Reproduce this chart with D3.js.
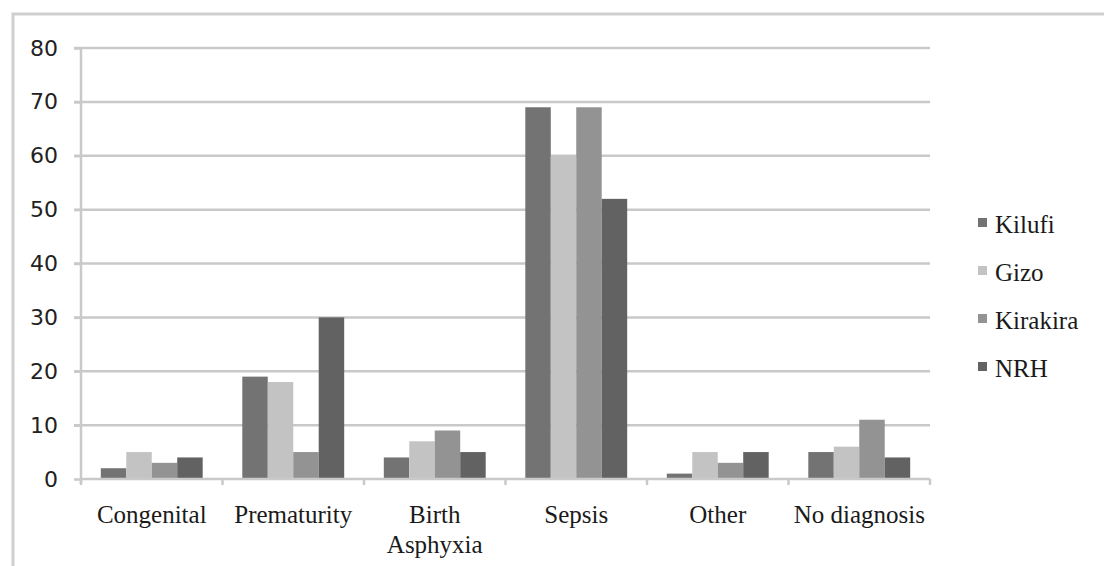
<!DOCTYPE html>
<html>
<head>
<meta charset="utf-8">
<script src="https://cdn.jsdelivr.net/npm/d3@7"></script>
<style>
  body { margin: 0; background: #fff; }
</style>
</head>
<body>
<div id="chart"></div>
<script>
// Data
const categories = ['Congenital', 'Prematurity', 'Birth Asphyxia', 'Sepsis', 'Other', 'No diagnosis'];
const seriesNames = ['Kilufi', 'Gizo', 'Kirakira', 'NRH'];
const kilufi = [2, 19, 4, 69, 1, 5];
const gizo = [5, 18, 7, 60, 5, 6];
const kirakira = [3, 5, 9, 69, 3, 11];
const nrh = [4, 30, 5, 52, 5, 4];
const yTicks = [0, 10, 20, 30, 40, 50, 60, 70, 80];

const seriesValues = [kilufi, gizo, kirakira, nrh];
const colorMapping = ['#737373', '#c3c3c3', '#939393', '#626262'];

const width = 1104, height = 566;
const plot = { left: 81, right: 930, top: 48, bottom: 479 };

const svg = d3.select('#chart')
    .append('svg')
    .attr('width', width)
    .attr('height', height);

svg.append('rect').attr('width', width).attr('height', height).attr('fill', '#fff');

// Outer frame (only top and left visible)
svg.append('path')
    .attr('d', `M13,${height} L13,14 L${width},14`)
    .attr('fill', 'none')
    .attr('stroke', '#cfcfcf')
    .attr('stroke-width', 3);

// Scales
const xScale = d3.scaleBand()
    .domain(categories)
    .range([plot.left, plot.right])
    .paddingInner(0.28)
    .paddingOuter(0.14);

const xInner = d3.scaleBand()
    .domain(seriesNames)
    .range([0, xScale.bandwidth()]);

const yScale = d3.scaleLinear()
    .domain([0, 80])
    .range([plot.bottom, plot.top]);

// Gridlines
svg.append('g')
    .selectAll('line')
    .data(yTicks.filter(d => d > 0))
    .enter().append('line')
    .attr('x1', plot.left - 7)
    .attr('x2', plot.right)
    .attr('y1', d => yScale(d))
    .attr('y2', d => yScale(d))
    .attr('stroke', '#c9c9c9')
    .attr('stroke-width', 2.5);

// Bars
const groups = svg.append('g')
    .selectAll('g')
    .data(categories)
    .enter().append('g')
    .attr('transform', d => `translate(${xScale(d)},0)`);

groups.selectAll('rect')
    .data((c, ci) => seriesNames.map((s, si) => ({ s, si, v: seriesValues[si][ci] })))
    .enter().append('rect')
    .attr('x', d => xInner(d.s))
    .attr('width', xInner.bandwidth())
    .attr('y', d => yScale(d.v))
    .attr('height', d => yScale(0) - yScale(d.v))
    .attr('fill', d => colorMapping[d.si]);

// Y axis
const yAxis = d3.axisLeft(yScale)
    .tickValues(yTicks)
    .tickSize(7)
    .tickPadding(16);
const yG = svg.append('g')
    .attr('transform', `translate(${plot.left},0)`)
    .call(yAxis);
yG.select('.domain').remove();
yG.selectAll('.tick line').attr('stroke', '#c9c9c9').attr('stroke-width', 2.5);
yG.selectAll('.tick text')
    .style('font-family', '"DejaVu Sans", sans-serif')
    .style('font-size', '22px')
    .attr('fill', '#222');
svg.append('line')
    .attr('x1', plot.left).attr('x2', plot.left)
    .attr('y1', plot.top).attr('y2', plot.bottom + 5)
    .attr('stroke', '#c9c9c9').attr('stroke-width', 2.5);

// X axis line and category separators
svg.append('line')
    .attr('x1', plot.left).attr('x2', plot.right)
    .attr('y1', plot.bottom).attr('y2', plot.bottom)
    .attr('stroke', '#c9c9c9').attr('stroke-width', 2.5);

const step = xScale.step();
svg.append('g')
    .selectAll('line')
    .data(d3.range(categories.length + 1))
    .enter().append('line')
    .attr('x1', i => plot.left + i * step)
    .attr('x2', i => plot.left + i * step)
    .attr('y1', plot.bottom)
    .attr('y2', plot.bottom + 6)
    .attr('stroke', '#c9c9c9').attr('stroke-width', 2.5);

// Category labels
const labels = svg.append('g')
    .selectAll('text')
    .data(categories)
    .enter().append('text')
    .attr('text-anchor', 'middle')
    .attr('x', d => xScale(d) + xScale.bandwidth() / 2)
    .attr('y', 523)
    .style('font-family', '"Liberation Serif", serif')
    .style('font-size', '25px')
    .attr('fill', '#1a1a1a');

labels.each(function(d) {
    const words = d === 'Birth Asphyxia' ? ['Birth', 'Asphyxia'] : [d];
    const t = d3.select(this);
    words.forEach((w, i) => {
        t.append('tspan')
            .attr('x', xScale(d) + xScale.bandwidth() / 2)
            .attr('dy', i === 0 ? 0 : 30)
            .text(w);
    });
});

// Legend
const legend = svg.append('g')
    .selectAll('g')
    .data(seriesNames)
    .enter().append('g')
    .attr('transform', (d, i) => `translate(978, ${224 + i * 48})`);

legend.append('rect')
    .attr('x', 0)
    .attr('y', -6)
    .attr('width', 9)
    .attr('height', 9)
    .attr('fill', (d, i) => colorMapping[i]);

legend.append('text')
    .attr('x', 17)
    .attr('y', 0)
    .attr('dy', '0.35em')
    .text(d => d)
    .style('font-family', '"Liberation Serif", serif')
    .style('font-size', '25px')
    .attr('fill', '#1a1a1a');
</script>
</body>
</html>
